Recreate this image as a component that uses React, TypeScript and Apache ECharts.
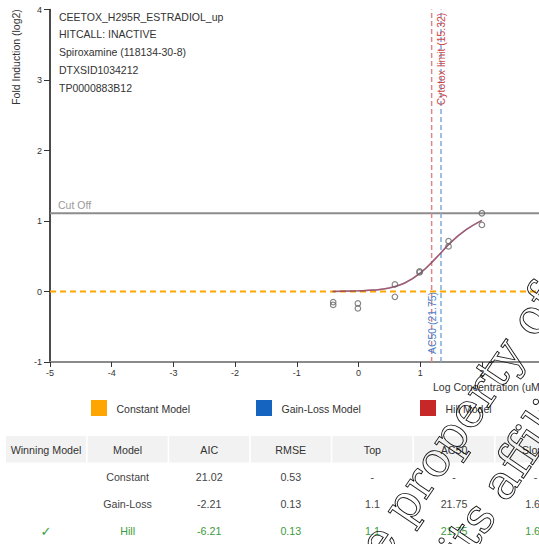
import React, { useEffect, useRef } from "react";
import * as echarts from "echarts";

const W = 539;
const H = 544;
const FONT = '"Liberation Sans", Arial, sans-serif';

// Axis ranges (log10 concentration, log2 fold induction)
const X_MIN = -5;
const X_MAX = 3;
const Y_MIN = -1;
const Y_MAX = 4;

// Info lines
const infoLines = [
  "CEETOX_H295R_ESTRADIOL_up",
  "HITCALL: INACTIVE",
  "Spiroxamine (118134-30-8)",
  "DTXSID1034212",
  "TP0000883B12",
];

// Measured responses
const pointLogConc = [-0.41, -0.41, -0.01, -0.01, 0.59, 0.59, 0.99, 0.99, 1.46, 1.46, 2.0, 2.0];
const pointResp = [-0.15, -0.19, -0.17, -0.24, 0.1, -0.075, 0.27, 0.285, 0.715, 0.64, 1.11, 0.945];

// Fitted curve
const curveLogConc = [-0.42, 0, 0.25, 0.5, 0.75, 1, 1.25, 1.5, 1.75, 2];
const curveResp = [0.0, 0.01, 0.02, 0.05, 0.12, 0.26, 0.47, 0.7, 0.88, 1.01];

const constantValue = 0;
const cutOff = 1.11;
const cytotoxLimit = 15.32;
const ac50 = 21.75;

// Legend
const legendNames = ["Constant Model", "Gain-Loss Model", "Hill Model"];
const legendColors = ["#FFA500", "#1565C0", "#C62828"];

// Table
const tableHeader = ["Winning Model", "Model", "AIC", "RMSE", "Top", "AC50", "Slope"];
const tableRows = [
  ["", "Constant", "21.02", "0.53", "-", "-", "-"],
  ["", "Gain-Loss", "-2.21", "0.13", "1.1", "21.75", "1.64"],
  ["\u2713", "Hill", "-6.21", "0.13", "1.1", "21.75", "1.64"],
];
const winningRowIndex = 2;

// Watermark fragments
const watermarkLines = ["the property of", "and its affiliates"];

function txt(text: string, x: number, y: number, opts: any = {}) {
  const align = opts.align || "left";
  const valign = opts.valign || "middle";
  return {
    type: "text",
    x,
    y,
    rotation: opts.rotation || 0,
    z: opts.z || 10,
    silent: true,
    style: {
      text,
      fontSize: opts.size || 10.5,
      fontFamily: opts.family || FONT,
      fontWeight: opts.weight || "normal",
      fill: opts.fill || "#333",
      stroke: opts.stroke,
      lineWidth: opts.lineWidth,
      align,
      textAlign: align,
      verticalAlign: valign,
      textVerticalAlign: valign,
    },
  };
}

export default function App() {
  const ref = useRef<HTMLDivElement>(null);

  useEffect(() => {
    if (!ref.current) return;
    const chart = echarts.init(ref.current, null, { renderer: "svg", width: W, height: H });
    const cytoLog = Math.log10(cytotoxLimit);
    const ac50Log = Math.log10(ac50);

    chart.setOption({
      animation: false,
      grid: { left: 50, top: 9.5, width: 493.6, height: 352.5, containLabel: false, outerBoundsMode: "none" },
      xAxis: {
        type: "value",
        min: X_MIN,
        max: X_MAX,
        interval: 1,
        axisLine: { show: true, onZero: false, lineStyle: { color: "#8a8a8a", width: 2 } },
        axisTick: { show: true, length: 5, lineStyle: { color: "#333", width: 1 } },
        axisLabel: { fontSize: 9, color: "#333", margin: 6, fontFamily: FONT, showMaxLabel: false },
        splitLine: { show: false },
      },
      yAxis: {
        type: "value",
        min: Y_MIN,
        max: Y_MAX,
        interval: 1,
        axisLine: { show: true, onZero: false, lineStyle: { color: "#111", width: 1.5 } },
        axisTick: { show: true, length: 6, lineStyle: { color: "#333", width: 1 } },
        axisLabel: { fontSize: 9, color: "#333", margin: 8, fontFamily: FONT },
        splitLine: { show: false },
      },
      series: [
        {
          name: "Cut Off",
          type: "line",
          data: [[X_MIN, cutOff], [X_MAX, cutOff]],
          symbol: "none",
          silent: true,
          lineStyle: { color: "#8c8c8c", width: 2 },
          z: 2,
        },
        {
          name: "Cytotox limit",
          type: "line",
          data: [[cytoLog, Y_MIN], [cytoLog, Y_MAX]],
          symbol: "none",
          silent: true,
          lineStyle: { color: "#E08585", width: 1.5, type: [5, 3] },
          z: 2,
        },
        {
          name: "AC50",
          type: "line",
          data: [[ac50Log, Y_MIN], [ac50Log, Y_MAX]],
          symbol: "none",
          silent: true,
          lineStyle: { color: "#7FA8DE", width: 1.5, type: [5, 3] },
          z: 2,
        },
        {
          name: legendNames[0],
          type: "line",
          data: [[X_MIN, constantValue], [X_MAX, constantValue]],
          symbol: "none",
          silent: true,
          lineStyle: { color: legendColors[0], width: 2, type: [6, 4] },
          z: 3,
        },
        {
          name: legendNames[1],
          type: "line",
          data: curveLogConc.map((x, i) => [x, curveResp[i]]),
          symbol: "none",
          smooth: 0.4,
          silent: true,
          lineStyle: { color: legendColors[1], width: 1.5, opacity: 0.6 },
          z: 4,
        },
        {
          name: legendNames[2],
          type: "line",
          data: curveLogConc.map((x, i) => [x, curveResp[i]]),
          symbol: "none",
          smooth: 0.4,
          silent: true,
          lineStyle: { color: legendColors[2], width: 1.5, opacity: 0.6 },
          z: 5,
        },
        {
          name: "Responses",
          type: "scatter",
          data: pointLogConc.map((x, i) => [x, pointResp[i]]),
          symbol: "circle",
          symbolSize: 5.5,
          silent: true,
          itemStyle: { color: "rgba(255,255,255,0)", borderColor: "#666", borderWidth: 1.2 },
          z: 6,
        },
      ],
    });

    const [cytoX] = chart.convertToPixel({ gridIndex: 0 }, [cytoLog, 0]) as number[];
    const [ac50X] = chart.convertToPixel({ gridIndex: 0 }, [ac50Log, 0]) as number[];
    const [, cutY] = chart.convertToPixel({ gridIndex: 0 }, [0, cutOff]) as number[];

    const g: any[] = [];
    infoLines.forEach((t, i) => g.push(txt(t, 59, 16.7 + i * 17.75, { fill: "#333" })));
    g.push(txt("Fold Induction (log2)", 15.5, 57, { rotation: Math.PI / 2, align: "center" }));
    g.push(txt("Log Concentration (uM)", 433, 387, { size: 10.5 }));
    g.push(txt("Cut Off", 58, cutY - 8.5, { fill: "#999", size: 10.5 }));
    g.push(txt("Cytotox limit (15.32)", cytoX + 10, 59, { rotation: Math.PI / 2, align: "center", fill: "#D04545", size: 10.4 }));
    g.push(txt("AC50 (21.75)", ac50X - 8.3, 323, { rotation: Math.PI / 2, align: "center", fill: "#4A7FCC", size: 10.4 }));

    // Legend
    const legendX = [91, 256, 420];
    legendNames.forEach((name, i) => {
      g.push({
        type: "rect",
        silent: true,
        z: 10,
        shape: { x: legendX[i], y: 400, width: 16, height: 16 },
        style: { fill: legendColors[i] },
      });
      g.push(txt(name, legendX[i] + 25.5, 408.5, { fill: "#333" }));
    });

    // Table
    const colStart = 6;
    const colW = 81.6;
    tableHeader.forEach((h, c) => {
      g.push({
        type: "rect",
        silent: true,
        z: 9,
        shape: { x: colStart + c * colW, y: 436, width: colW - 1.6, height: 26.5 },
        style: { fill: "#f2f2f2" },
      });
      g.push(txt(h, colStart + c * colW + (colW - 1.6) / 2, 449.5, { align: "center", fill: "#333", size: 10.7 }));
    });
    const rowY = [477, 504, 531];
    tableRows.forEach((row, r) => {
      const color = r === winningRowIndex ? "#3a9c3a" : "#444";
      row.forEach((cell, c) => {
        if (!cell) return;
        const isCheck = c === 0;
        g.push(
          txt(cell, colStart + c * colW + (colW - 1.6) / 2, rowY[r], {
            align: "center",
            fill: color,
            size: isCheck ? 13 : 10.7,
            weight: isCheck ? "bold" : "normal",
            family: isCheck ? '"DejaVu Sans", "Liberation Sans", sans-serif' : FONT,
          })
        );
      });
    });

    // Watermark (outlined serif text)
    const rot = (55.8 * Math.PI) / 180;
    const wmStarts = [
      [341.3, 594.8],
      [391.1, 642.8],
    ];
    watermarkLines.forEach((t, i) => {
      g.push(
        txt(t, wmStarts[i][0], wmStarts[i][1], {
          rotation: rot,
          size: 48,
          family: '"DejaVu Serif", "Liberation Serif", serif',
          fill: "rgba(255,255,255,0)",
          stroke: "#111",
          lineWidth: 0.9,
          z: 100,
        })
      );
    });

    chart.setOption({ graphic: { elements: g } });

    return () => chart.dispose();
  }, []);

  return (
    <div style={{ position: "absolute", left: 0, top: 0, width: W, height: H, overflow: "hidden", background: "#fff" }}>
      <div ref={ref} style={{ width: W, height: H }} />
    </div>
  );
}
